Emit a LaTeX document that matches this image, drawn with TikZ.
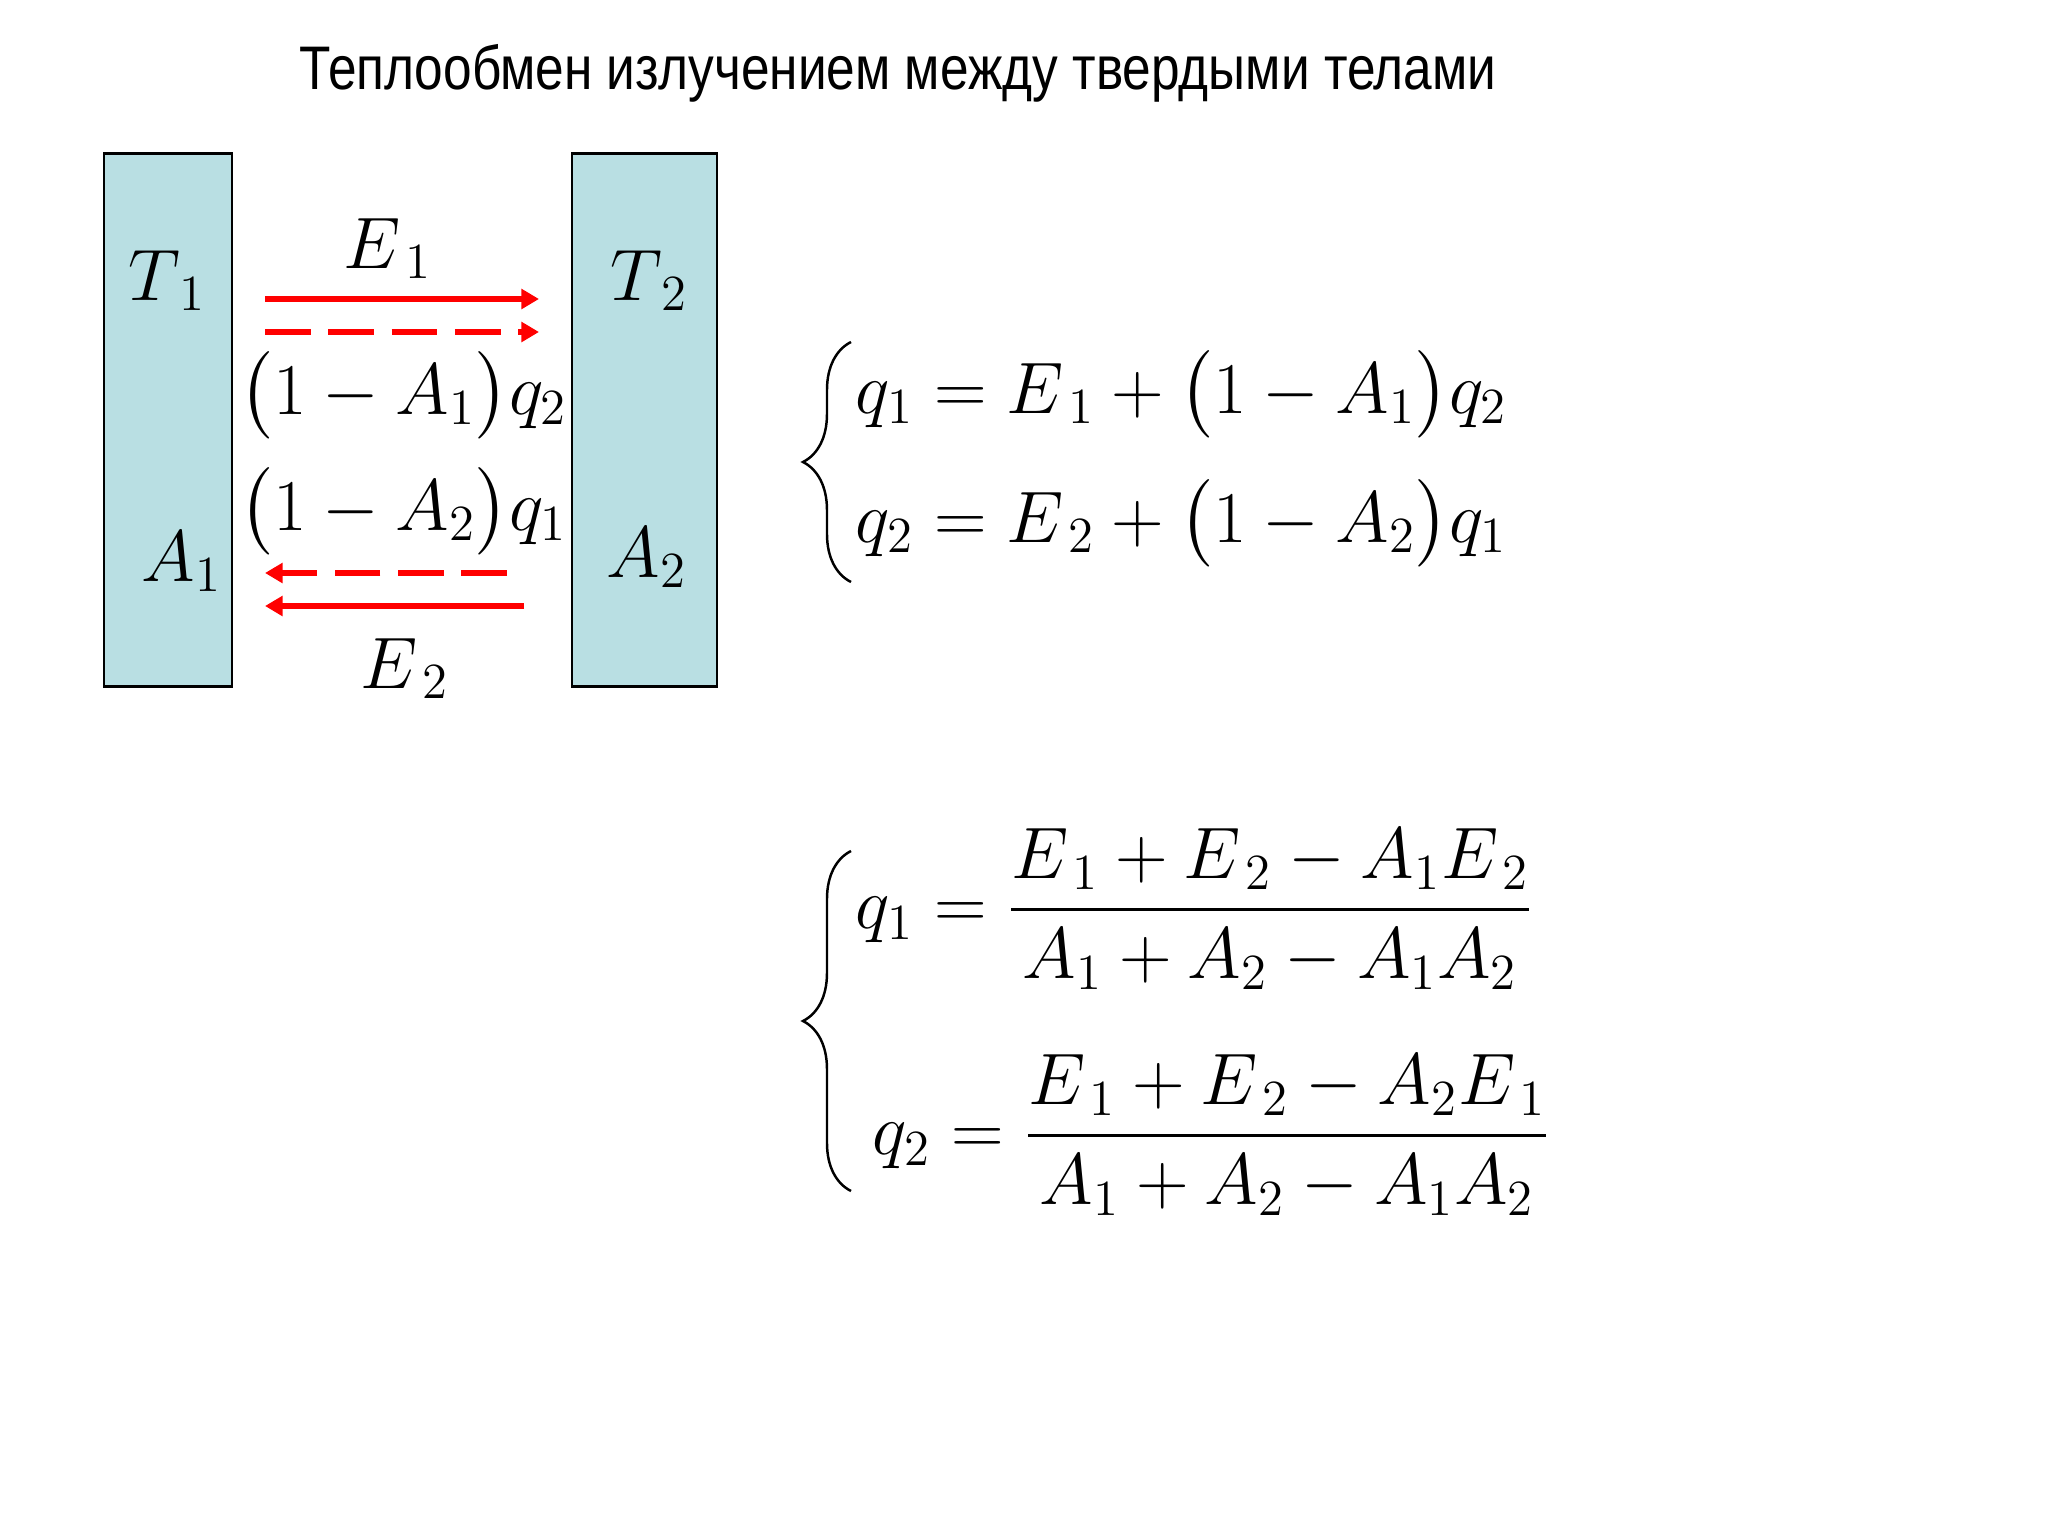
\documentclass[tikz,border=0pt]{standalone}
\usepackage{amsmath}
\usepackage{fontspec}
\newfontfamily\titlefont{Liberation Sans}
\usetikzlibrary{arrows.meta,decorations.pathreplacing}
\definecolor{platecol}{RGB}{185,223,227}
\tikzset{
    plate/.style ={
        draw=black,
        fill=platecol,
        line width=0.8pt,
        inner sep=0pt
    },
    sym/.style ={
        font=\fontsize{21}{25}\selectfont,
        inner sep=0pt
    },
    ray/.style ={
        draw=red,
        line width=1.5pt,
        -{Triangle[length=5pt,width=5.5pt]}
    },
    backray/.style ={
        ray,
        dash pattern=on 13pt off 5pt
    },
    curly/.style ={
        decorate,
        decoration={brace,amplitude=0.48cm},
        line width=0.7pt
    }
}

\begin{document}
\begin{tikzpicture}[x=0.01cm,y=-0.01cm]
    \useasboundingbox (0,0) rectangle (2048,1536);
    \node[anchor=base, font=\titlefont\fontsize{17.5}{21}\selectfont] (title) at(898,89)
        {\scalebox{0.835}[1]{Теплообмен излучением между твердыми телами}};
    \node[plate, minimum width=1.28cm, minimum height=5.32cm] (plate1) at(168,420) {};
    \node[plate, minimum width=1.45cm, minimum height=5.32cm] (plate2) at(644.5,420) {};
    \node[sym, anchor=base west] (T1) at(128,300) {$T_{\,1}$};
    \node[sym, anchor=base west] (T2) at(610,300) {$T_{\,2}$};
    \node[sym, anchor=base west] (A1) at(141,581) {$A_1$};
    \node[sym, anchor=base west] (A2) at(606,577) {$A_2$};
    \node[sym, anchor=base west] (E1) at(343,268) {$E_{\,1}$};
    \node[sym, anchor=base west] (E2) at(360,688) {$E_{\,2}$};
    \node[sym, anchor=base west] (r12) at(239,414) {$\bigl(1-A_1\bigr)q_2$};
    \node[sym, anchor=base west] (r21) at(239,530) {$\bigl(1-A_2\bigr)q_1$};
    \coordinate (e1a) at(265,299);
    \coordinate (e1b) at(539,299);
    \coordinate (q2a) at(265,332);
    \coordinate (q2b) at(539,332);
    \coordinate (q1a) at(507,573);
    \coordinate (q1b) at(265,573);
    \coordinate (e2a) at(524,606);
    \coordinate (e2b) at(265,606);
    \draw[ray] (e1a) -- (e1b);
    \draw[backray] (q2a) -- (q2b);
    \draw[backray] (q1a) -- (q1b);
    \draw[ray] (e2a) -- (e2b);
    \node[sym, anchor=base west] (bal1) at(855,413) {$q_1 = E_{\,1} + \bigl(1-A_1\bigr)q_2$};
    \node[sym, anchor=base west] (bal2) at(855,542) {$q_2 = E_{\,2} + \bigl(1-A_2\bigr)q_1$};
    \coordinate (b1top) at(851,342);
    \coordinate (b1bot) at(851,582);
    \draw[curly] (b1bot) -- (b1top);
    \node[sym, anchor=west] (sol1) at(855,909)
        {$q_1 = \dfrac{E_{\,1} + E_{\,2} - A_1E_{\,2}}{A_1 + A_2 - A_1A_2}$};
    \node[sym, anchor=west] (sol2) at(872,1135)
        {$q_2 = \dfrac{E_{\,1} + E_{\,2} - A_2E_{\,1}}{A_1 + A_2 - A_1A_2}$};
    \coordinate (b2top) at(851,851);
    \coordinate (b2bot) at(851,1191);
    \draw[curly] (b2bot) -- (b2top);
\end{tikzpicture}
\end{document}
